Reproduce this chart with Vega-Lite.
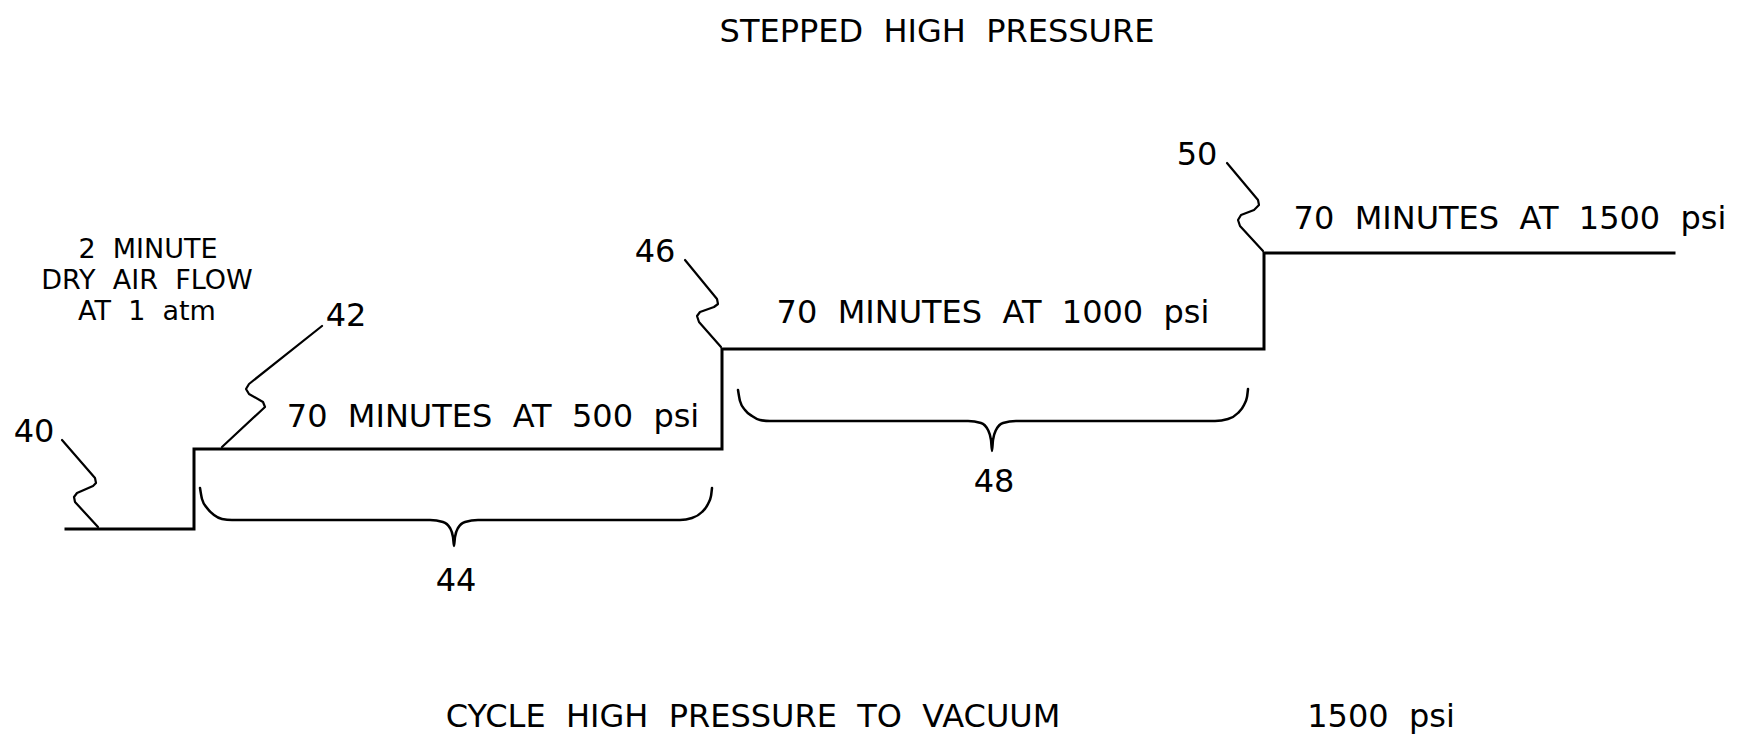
{
  "$schema": "https://vega.github.io/schema/vega-lite/v6.json",
  "width": 1738,
  "height": 736,
  "autosize": {"type": "fit", "contains": "padding"},
  "padding": 0,
  "background": "white",
  "config": {"view": {"stroke": null}, "font": "DejaVu Sans"},
  "datasets": {
    "paths": [
      {"kind": "step", "id": "step", "o": 1, "x": 66, "y": 529},
      {"kind": "step", "id": "step", "o": 2, "x": 194, "y": 529},
      {"kind": "step", "id": "step", "o": 3, "x": 194, "y": 449},
      {"kind": "step", "id": "step", "o": 4, "x": 722, "y": 449},
      {"kind": "step", "id": "step", "o": 5, "x": 722, "y": 349},
      {"kind": "step", "id": "step", "o": 6, "x": 1264, "y": 349},
      {"kind": "step", "id": "step", "o": 7, "x": 1264, "y": 253},
      {"kind": "step", "id": "step", "o": 8, "x": 1674, "y": 253},

      {"kind": "leader", "id": "L40", "o": 1, "x": 62, "y": 440},
      {"kind": "leader", "id": "L40", "o": 2, "x": 95, "y": 478},
      {"kind": "leader", "id": "L40", "o": 3, "x": 96, "y": 483},
      {"kind": "leader", "id": "L40", "o": 4, "x": 93, "y": 486},
      {"kind": "leader", "id": "L40", "o": 5, "x": 77, "y": 493},
      {"kind": "leader", "id": "L40", "o": 6, "x": 74, "y": 497},
      {"kind": "leader", "id": "L40", "o": 7, "x": 75, "y": 502},
      {"kind": "leader", "id": "L40", "o": 8, "x": 98, "y": 527},

      {"kind": "leader", "id": "L42", "o": 1, "x": 322, "y": 326},
      {"kind": "leader", "id": "L42", "o": 2, "x": 249, "y": 384},
      {"kind": "leader", "id": "L42", "o": 3, "x": 246, "y": 389},
      {"kind": "leader", "id": "L42", "o": 4, "x": 249, "y": 394},
      {"kind": "leader", "id": "L42", "o": 5, "x": 263, "y": 402},
      {"kind": "leader", "id": "L42", "o": 6, "x": 265, "y": 407},
      {"kind": "leader", "id": "L42", "o": 7, "x": 222, "y": 447},

      {"kind": "leader", "id": "L46", "o": 1, "x": 685, "y": 260},
      {"kind": "leader", "id": "L46", "o": 2, "x": 717, "y": 299},
      {"kind": "leader", "id": "L46", "o": 3, "x": 718, "y": 304},
      {"kind": "leader", "id": "L46", "o": 4, "x": 714, "y": 307},
      {"kind": "leader", "id": "L46", "o": 5, "x": 700, "y": 312},
      {"kind": "leader", "id": "L46", "o": 6, "x": 697, "y": 316},
      {"kind": "leader", "id": "L46", "o": 7, "x": 699, "y": 322},
      {"kind": "leader", "id": "L46", "o": 8, "x": 721, "y": 347},

      {"kind": "leader", "id": "L50", "o": 1, "x": 1227, "y": 163},
      {"kind": "leader", "id": "L50", "o": 2, "x": 1258, "y": 200},
      {"kind": "leader", "id": "L50", "o": 3, "x": 1259, "y": 205},
      {"kind": "leader", "id": "L50", "o": 4, "x": 1254, "y": 210},
      {"kind": "leader", "id": "L50", "o": 5, "x": 1241, "y": 215},
      {"kind": "leader", "id": "L50", "o": 6, "x": 1238, "y": 220},
      {"kind": "leader", "id": "L50", "o": 7, "x": 1240, "y": 226},
      {"kind": "leader", "id": "L50", "o": 8, "x": 1263, "y": 251},

      {"kind": "brace", "id": "B44", "o": 1, "x": 200, "y": 488},
      {"kind": "brace", "id": "B44", "o": 2, "x": 202, "y": 499},
      {"kind": "brace", "id": "B44", "o": 3, "x": 207, "y": 508},
      {"kind": "brace", "id": "B44", "o": 4, "x": 214, "y": 515},
      {"kind": "brace", "id": "B44", "o": 5, "x": 222, "y": 519},
      {"kind": "brace", "id": "B44", "o": 6, "x": 232, "y": 520},
      {"kind": "brace", "id": "B44", "o": 7, "x": 430, "y": 520},
      {"kind": "brace", "id": "B44", "o": 8, "x": 443, "y": 522},
      {"kind": "brace", "id": "B44", "o": 9, "x": 450, "y": 528},
      {"kind": "brace", "id": "B44", "o": 10, "x": 453, "y": 537},
      {"kind": "brace", "id": "B44", "o": 11, "x": 454, "y": 546},
      {"kind": "brace", "id": "B44", "o": 12, "x": 455, "y": 537},
      {"kind": "brace", "id": "B44", "o": 13, "x": 458, "y": 528},
      {"kind": "brace", "id": "B44", "o": 14, "x": 465, "y": 522},
      {"kind": "brace", "id": "B44", "o": 15, "x": 478, "y": 520},
      {"kind": "brace", "id": "B44", "o": 16, "x": 680, "y": 520},
      {"kind": "brace", "id": "B44", "o": 17, "x": 692, "y": 518},
      {"kind": "brace", "id": "B44", "o": 18, "x": 702, "y": 512},
      {"kind": "brace", "id": "B44", "o": 19, "x": 708, "y": 504},
      {"kind": "brace", "id": "B44", "o": 20, "x": 711, "y": 496},
      {"kind": "brace", "id": "B44", "o": 21, "x": 712, "y": 488},

      {"kind": "brace", "id": "B48", "o": 1, "x": 738, "y": 390},
      {"kind": "brace", "id": "B48", "o": 2, "x": 740, "y": 401},
      {"kind": "brace", "id": "B48", "o": 3, "x": 745, "y": 410},
      {"kind": "brace", "id": "B48", "o": 4, "x": 752, "y": 416},
      {"kind": "brace", "id": "B48", "o": 5, "x": 760, "y": 420},
      {"kind": "brace", "id": "B48", "o": 6, "x": 770, "y": 421},
      {"kind": "brace", "id": "B48", "o": 7, "x": 968, "y": 421},
      {"kind": "brace", "id": "B48", "o": 8, "x": 981, "y": 423},
      {"kind": "brace", "id": "B48", "o": 9, "x": 988, "y": 430},
      {"kind": "brace", "id": "B48", "o": 10, "x": 991, "y": 440},
      {"kind": "brace", "id": "B48", "o": 11, "x": 992, "y": 451},
      {"kind": "brace", "id": "B48", "o": 12, "x": 993, "y": 440},
      {"kind": "brace", "id": "B48", "o": 13, "x": 996, "y": 430},
      {"kind": "brace", "id": "B48", "o": 14, "x": 1003, "y": 423},
      {"kind": "brace", "id": "B48", "o": 15, "x": 1016, "y": 421},
      {"kind": "brace", "id": "B48", "o": 16, "x": 1215, "y": 421},
      {"kind": "brace", "id": "B48", "o": 17, "x": 1228, "y": 419},
      {"kind": "brace", "id": "B48", "o": 18, "x": 1238, "y": 413},
      {"kind": "brace", "id": "B48", "o": 19, "x": 1244, "y": 405},
      {"kind": "brace", "id": "B48", "o": 20, "x": 1247, "y": 397},
      {"kind": "brace", "id": "B48", "o": 21, "x": 1248, "y": 389}
    ],
    "labels": [
      {"group": "main", "text": "STEPPED\u00a0\u00a0HIGH\u00a0\u00a0PRESSURE", "x": 937, "y": 32},
      {"group": "block", "text": "2\u00a0\u00a0MINUTE", "x": 148, "y": 250},
      {"group": "block", "text": "DRY\u00a0\u00a0AIR\u00a0\u00a0FLOW", "x": 147, "y": 281},
      {"group": "block", "text": "AT\u00a0\u00a01\u00a0\u00a0atm", "x": 147, "y": 312},
      {"group": "main", "text": "40", "x": 34, "y": 432},
      {"group": "main", "text": "42", "x": 346, "y": 316},
      {"group": "main", "text": "46", "x": 655, "y": 252},
      {"group": "main", "text": "50", "x": 1197, "y": 155},
      {"group": "main", "text": "70\u00a0\u00a0MINUTES\u00a0\u00a0AT\u00a0\u00a0500\u00a0\u00a0psi", "x": 493, "y": 417},
      {"group": "main", "text": "70\u00a0\u00a0MINUTES\u00a0\u00a0AT\u00a0\u00a01000\u00a0\u00a0psi", "x": 993, "y": 313},
      {"group": "main", "text": "70\u00a0\u00a0MINUTES\u00a0\u00a0AT\u00a0\u00a01500\u00a0\u00a0psi", "x": 1510, "y": 219},
      {"group": "main", "text": "44", "x": 456, "y": 581},
      {"group": "main", "text": "48", "x": 994, "y": 482},
      {"group": "main", "text": "CYCLE\u00a0\u00a0HIGH\u00a0\u00a0PRESSURE\u00a0\u00a0TO\u00a0\u00a0VACUUM", "x": 753, "y": 717},
      {"group": "main", "text": "1500\u00a0\u00a0psi", "x": 1381, "y": 717}
    ]
  },
  "layer": [
    {
      "data": {"name": "paths"},
      "transform": [{"filter": "datum.kind == 'step'"}],
      "mark": {"type": "line", "color": "black", "strokeWidth": 3, "strokeCap": "square", "strokeJoin": "miter"},
      "encoding": {
        "x": {"field": "x", "type": "quantitative", "scale": {"domain": [0, 1738], "nice": false, "zero": false}, "axis": null},
        "y": {"field": "y", "type": "quantitative", "scale": {"domain": [0, 736], "reverse": true, "nice": false, "zero": false}, "axis": null},
        "detail": {"field": "id"},
        "order": {"field": "o"}
      }
    },
    {
      "data": {"name": "paths"},
      "transform": [{"filter": "datum.kind == 'leader'"}],
      "mark": {"type": "line", "color": "black", "strokeWidth": 2.2, "strokeJoin": "round", "strokeCap": "round"},
      "encoding": {
        "x": {"field": "x", "type": "quantitative"},
        "y": {"field": "y", "type": "quantitative"},
        "detail": {"field": "id"},
        "order": {"field": "o"}
      }
    },
    {
      "data": {"name": "paths"},
      "transform": [{"filter": "datum.kind == 'brace'"}],
      "mark": {"type": "line", "color": "black", "strokeWidth": 2.5, "interpolate": "monotone", "strokeCap": "round"},
      "encoding": {
        "x": {"field": "x", "type": "quantitative"},
        "y": {"field": "y", "type": "quantitative"},
        "detail": {"field": "id"},
        "order": {"field": "o"}
      }
    },
    {
      "data": {"name": "labels"},
      "transform": [{"filter": "datum.group == 'main'"}],
      "mark": {"type": "text", "color": "black", "fontSize": 32, "font": "DejaVu Sans", "align": "center", "baseline": "middle"},
      "encoding": {
        "x": {"field": "x", "type": "quantitative"},
        "y": {"field": "y", "type": "quantitative"},
        "text": {"field": "text"}
      }
    },
    {
      "data": {"name": "labels"},
      "transform": [{"filter": "datum.group == 'block'"}],
      "mark": {"type": "text", "color": "black", "fontSize": 27, "font": "DejaVu Sans", "align": "center", "baseline": "middle"},
      "encoding": {
        "x": {"field": "x", "type": "quantitative"},
        "y": {"field": "y", "type": "quantitative"},
        "text": {"field": "text"}
      }
    }
  ]
}
